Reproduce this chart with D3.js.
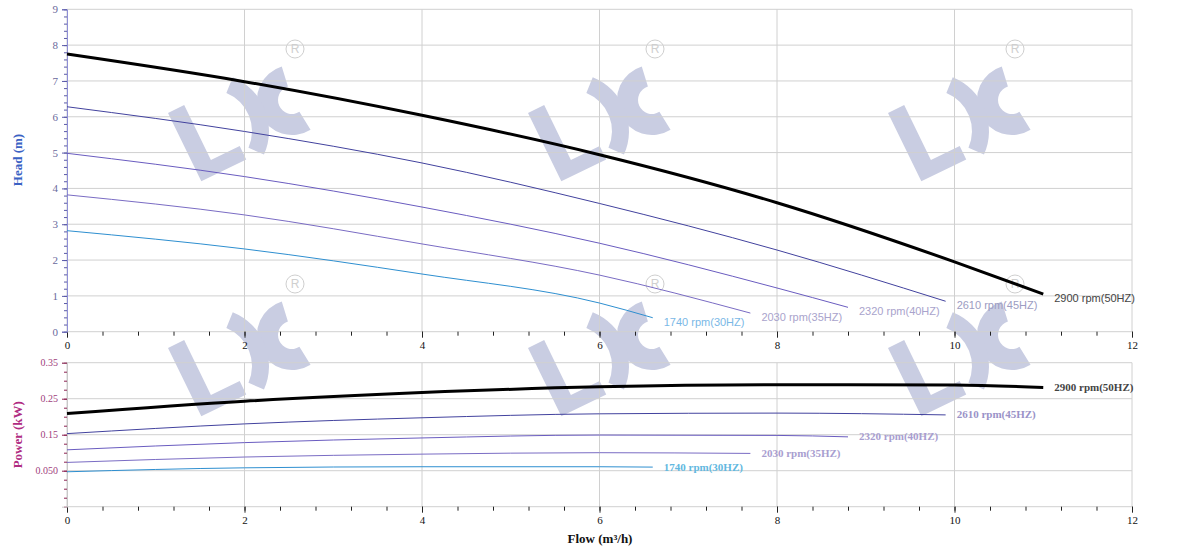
<!DOCTYPE html>
<html>
<head>
<meta charset="utf-8">
<script src="https://cdn.jsdelivr.net/npm/d3@7"></script>
<style>
  body { margin: 0; background: #fff; }
  svg { display: block; }
  .tick text { font-family: "Liberation Serif", "DejaVu Serif", serif; }
</style>
</head>
<body>
<div id="chart"></div>
<script>
// speeds (labels) and their curve points
const speedLabels = ["2900 rpm(50HZ)", "2610 rpm(45HZ)", "2320 rpm(40HZ)", "2030 rpm(35HZ)", "1740 rpm(30HZ)"];

const flow2900 = [0, 2, 4, 6, 8, 10, 11];
const head2900 = [7.75, 6.98, 6.04, 4.94, 3.6, 1.95, 1.05];
const power2900 = [0.209, 0.243, 0.267, 0.283, 0.289, 0.288, 0.281];

const flow2610 = [0, 2, 4, 6, 8, 9.9];
const head2610 = [6.28, 5.59, 4.71, 3.58, 2.28, 0.85];
const power2610 = [0.153, 0.180, 0.197, 0.208, 0.210, 0.205];

const flow2320 = [0, 2, 4, 6, 8, 8.8];
const head2320 = [4.98, 4.33, 3.48, 2.47, 1.22, 0.68];
const power2320 = [0.108, 0.128, 0.141, 0.149, 0.148, 0.144];

const flow2030 = [0, 2, 4, 6, 7.7];
const head2030 = [3.82, 3.26, 2.45, 1.58, 0.52];
const power2030 = [0.073, 0.088, 0.096, 0.100, 0.098];

const flow1740 = [0, 2, 4, 6, 6.6];
const head1740 = [2.82, 2.31, 1.61, 0.80, 0.39];
const power1740 = [0.047, 0.058, 0.061, 0.061, 0.060];

// tick values
const flowTicks = [0, 2, 4, 6, 8, 10, 12];
const headTicks = [0, 1, 2, 3, 4, 5, 6, 7, 8, 9];
const powerTicks = [0.05, 0.15, 0.25, 0.35];
const powerTickLabels = ["0.050", "0.15", "0.25", "0.35"];

// styles per speed
const lineColors = ["#000000", "#42429e", "#6a5cc0", "#7a6cc4", "#2e8fd0"];
const lineWidths = [3, 1, 1, 1, 1];
const headLabelColors = ["#444444", "#9c9cc2", "#a9a3cc", "#a9a3cc", "#7ab8e6"];
const powerLabelColors = ["#444444", "#9a92c8", "#a89ed0", "#a89ed0", "#62b8e0"];

const series = [
    {flow: flow2900, head: head2900, power: power2900},
    {flow: flow2610, head: head2610, power: power2610},
    {flow: flow2320, head: head2320, power: power2320},
    {flow: flow2030, head: head2030, power: power2030},
    {flow: flow1740, head: head1740, power: power1740}
];

const width = 1200, height = 560;
const svg = d3.select("#chart").append("svg")
    .attr("width", width)
    .attr("height", height);

// scales
const x = d3.scaleLinear().domain([0, 12]).range([67, 1132]);
const yHead = d3.scaleLinear().domain([0, 9]).range([331.7, 9.3]);
const yPower = d3.scaleLinear().domain([-0.05, 0.35]).range([506.7, 362.7]);

// watermark logos
const wmColor = "#c9cde2";
const logoOffsets = [[0, 0], [360, 0], [720, 0], [0, 235], [360, 235], [720, 235]];
const wm = svg.append("g").attr("class", "watermark");
logoOffsets.forEach(o => {
    const g = wm.append("g").attr("transform", `translate(${o[0]},${o[1]})`);
    g.append("polygon")
        .attr("points", "0,0 18,0 18,61 50,61 50,76 0,76")
        .attr("transform", "translate(168,113) rotate(-26)")
        .attr("fill", wmColor);
    const arcA = d3.arc().innerRadius(14).outerRadius(35)
        .startAngle(148 * Math.PI / 180).endAngle(343 * Math.PI / 180);
    g.append("path").attr("d", arcA()).attr("transform", "translate(292,100)").attr("fill", wmColor);
    const arcB = d3.arc().innerRadius(41).outerRadius(58)
        .startAngle(22 * Math.PI / 180).endAngle(114 * Math.PI / 180);
    g.append("path").attr("d", arcB()).attr("transform", "translate(211,131)").attr("fill", wmColor);
    g.append("circle").attr("cx", 295).attr("cy", 49).attr("r", 9)
        .attr("fill", "none").attr("stroke", "#cfcfcf").attr("stroke-width", 1);
    g.append("text").attr("x", 295).attr("y", 49)
        .attr("text-anchor", "middle").attr("dominant-baseline", "central")
        .attr("font-family", "Liberation Sans, Arial, sans-serif").attr("font-size", 12)
        .attr("fill", "#cfcfcf").text("R");
});

// grid
const grid = svg.append("g").attr("class", "grid")
    .attr("stroke", "#d0d0d0").attr("stroke-width", 1);
flowTicks.forEach(t => {
    grid.append("line").attr("x1", x(t)).attr("x2", x(t)).attr("y1", yHead(9)).attr("y2", yHead(0));
    grid.append("line").attr("x1", x(t)).attr("x2", x(t)).attr("y1", yPower(0.35)).attr("y2", yPower(-0.05));
});
headTicks.forEach(t => {
    grid.append("line").attr("x1", x(0)).attr("x2", x(12)).attr("y1", yHead(t)).attr("y2", yHead(t));
});
powerTicks.concat([-0.05]).forEach(t => {
    grid.append("line").attr("x1", x(0)).attr("x2", x(12)).attr("y1", yPower(t)).attr("y2", yPower(t));
});

// minor tick helper
function minorTicks(lo, hi, step) {
    const out = [];
    for (let v = lo; v <= hi + 1e-9; v += step) out.push(+v.toFixed(4));
    return out;
}

// x axes (top chart and bottom chart)
[yHead(0), yPower(-0.05)].forEach(yy => {
    const minor = svg.append("g").attr("transform", `translate(0,${yy})`)
        .call(d3.axisBottom(x).tickValues(minorTicks(0, 12, 0.4)).tickSize(4).tickFormat(""));
    const major = svg.append("g").attr("transform", `translate(0,${yy})`)
        .call(d3.axisBottom(x).tickValues(flowTicks).tickSize(6).tickPadding(4).tickFormat(d3.format("d")));
    [minor, major].forEach(a => {
        a.select(".domain").remove();
        a.selectAll(".tick line").attr("stroke", "#222");
    });
    major.selectAll(".tick text").attr("font-size", 11).attr("fill", "#111");
});

// head y axis
const headMinor = svg.append("g").attr("transform", `translate(${x(0)},0)`)
    .call(d3.axisLeft(yHead).tickValues(minorTicks(0, 9, 0.2)).tickSize(3).tickFormat(""));
const headMajor = svg.append("g").attr("transform", `translate(${x(0)},0)`)
    .call(d3.axisLeft(yHead).tickValues(headTicks).tickSize(5).tickPadding(4).tickFormat(d3.format("d")));
headMinor.select(".domain").remove();
headMajor.select(".domain").attr("stroke", "#8f8fd6");
headMinor.selectAll(".tick line").attr("stroke", "#5a5aa8");
headMajor.selectAll(".tick line").attr("stroke", "#5a5aa8");
headMajor.selectAll(".tick text").attr("font-size", 11).attr("fill", "#6a6a9c");

// power y axis
const powMinor = svg.append("g").attr("transform", `translate(${x(0)},0)`)
    .call(d3.axisLeft(yPower).tickValues(minorTicks(-0.05, 0.35, 0.025)).tickSize(3).tickFormat(""));
const powMajor = svg.append("g").attr("transform", `translate(${x(0)},0)`)
    .call(d3.axisLeft(yPower).tickValues(powerTicks).tickSize(5).tickPadding(4)
        .tickFormat((d, i) => powerTickLabels[i]));
powMinor.select(".domain").remove();
powMajor.select(".domain").attr("stroke", "#c8c8c8");
powMinor.selectAll(".tick line").attr("stroke", "#8a2050");
powMajor.selectAll(".tick line").attr("stroke", "#8a2050");
powMajor.selectAll(".tick text").attr("font-size", 10).attr("fill", "#a0407c");

// curves
const headLine = d3.line().curve(d3.curveMonotoneX)
    .x(d => x(d[0])).y(d => yHead(d[1]));
const powerLine = d3.line().curve(d3.curveMonotoneX)
    .x(d => x(d[0])).y(d => yPower(d[1]));

const curves = svg.append("g").attr("class", "curves");
// draw thin ones first so the 2900 line sits on top
for (let i = series.length - 1; i >= 0; i--) {
    const s = series[i];
    const hp = s.flow.map((f, j) => [f, s.head[j]]);
    const pp = s.flow.map((f, j) => [f, s.power[j]]);
    curves.append("path").datum(hp).attr("d", headLine)
        .attr("fill", "none").attr("stroke", lineColors[i]).attr("stroke-width", lineWidths[i]);
    curves.append("path").datum(pp).attr("d", powerLine)
        .attr("fill", "none").attr("stroke", lineColors[i]).attr("stroke-width", lineWidths[i]);

    const last = hp[hp.length - 1];
    curves.append("text")
        .attr("x", x(last[0]) + 11).attr("y", yHead(last[1]) + 5)
        .attr("dominant-baseline", "middle")
        .attr("font-family", "Liberation Sans, Arial, sans-serif").attr("font-size", 11)
        .attr("fill", headLabelColors[i]).text(speedLabels[i]);

    const lastP = pp[pp.length - 1];
    curves.append("text")
        .attr("x", x(lastP[0]) + 11).attr("y", yPower(lastP[1]) + 1)
        .attr("dominant-baseline", "middle")
        .attr("font-family", "Liberation Serif, serif").attr("font-size", 11).attr("font-weight", "bold")
        .attr("fill", powerLabelColors[i]).text(speedLabels[i]);
}

// axis titles
svg.append("text")
    .attr("transform", "translate(22,160) rotate(-90)")
    .attr("text-anchor", "middle")
    .attr("font-family", "Liberation Serif, serif").attr("font-size", 13).attr("font-weight", "bold")
    .attr("fill", "#3a62c4").text("Head (m)");

svg.append("text")
    .attr("transform", `translate(22,${(yPower(0.35) + yPower(-0.05)) / 2}) rotate(-90)`)
    .attr("text-anchor", "middle")
    .attr("font-family", "Liberation Serif, serif").attr("font-size", 13).attr("font-weight", "bold")
    .attr("fill", "#b02c82").text("Power (kW)");

svg.append("text")
    .attr("x", 600).attr("y", 543)
    .attr("text-anchor", "middle")
    .attr("font-family", "Liberation Serif, serif").attr("font-size", 13).attr("font-weight", "bold")
    .attr("fill", "#111").text("Flow (m³/h)");
</script>
</body>
</html>
